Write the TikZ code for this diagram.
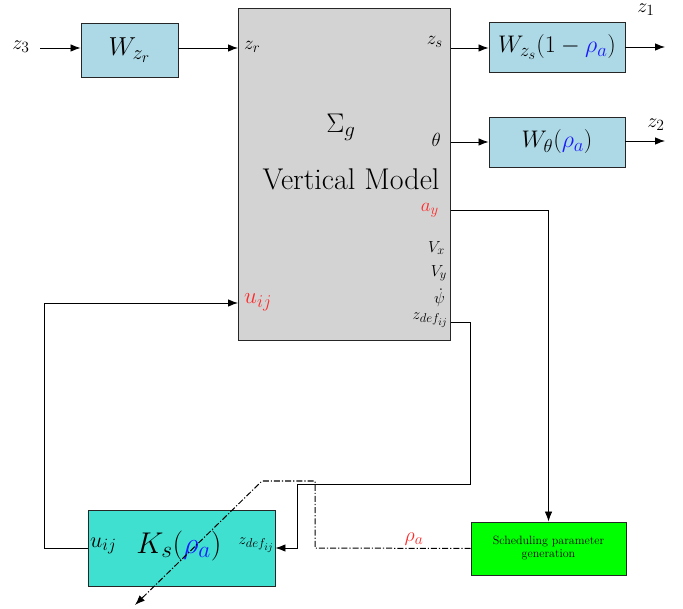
\documentclass[tikz,border=0pt]{standalone}
\usepackage{fix-cm}
\usetikzlibrary{arrows.meta}
\DeclareMathSizes{14}{14}{11}{8.5}
\DeclareMathSizes{15.5}{15.5}{12.8}{10.5}
\DeclareMathSizes{16}{16}{12.5}{9.6}
\DeclareMathSizes{19}{19}{14.8}{11.4}
\DeclareMathSizes{20}{20}{15.6}{12}
\DeclareMathSizes{22}{22}{17.2}{13.2}
\DeclareMathSizes{23}{23}{18}{13.8}
\DeclareMathSizes{24}{24}{18.7}{14.4}
\DeclareMathSizes{26}{26}{20.3}{15.6}
\DeclareMathSizes{27}{27}{21}{16.2}
\DeclareMathSizes{30}{30}{23.4}{18}
\definecolor{wblue}{HTML}{ADD8E6}
\definecolor{sysgray}{HTML}{D3D3D3}
\definecolor{kturq}{HTML}{40E0D0}
\definecolor{sgreen}{HTML}{00FF00}
\definecolor{rhoblue}{HTML}{1A1AFF}
\definecolor{lblred}{HTML}{FF2A2A}
\newcommand{\fs}[1]{\fontsize{#1}{#1}\selectfont}
\begin{document}
\begin{tikzpicture}[x=1pt,y=-1pt,
  blockbox/.style={draw=black!85, line width=0.9pt, inner sep=0pt},
  conn/.style={line width=0.85pt, draw=black},
  arr/.style={conn, -{Latex[length=10pt,width=7.5pt]}},
  port/.style={inner sep=0pt, font=\fs{16}},
  dashdot/.style={line width=1pt, draw=black, dash pattern=on 6pt off 2pt on 1.2pt off 2pt}
]
\useasboundingbox (0,0) rectangle (683,609);

% main system block
\node[blockbox, fill=sysgray, anchor=north west, minimum width=212pt, minimum height=332pt] (sys) at (238,8) {};
\node[inner sep=0pt, font=\fs{27}] (sigma) at (341,127) {$\Sigma_g$};
\node[inner sep=0pt, font=\fs{30}] (vm) at (351,179) {Vertical Model};
\node[port, anchor=west, font=\fs{19}] (zr) at (244,47) {$z_r$};
\node[port, anchor=east, font=\fs{19}] (zs) at (443,42) {$z_s$};
\node[port, anchor=east, font=\fs{19}] (th) at (441,140) {$\theta$};
\node[port, anchor=east, font=\fs{19}, text=lblred] (ay) at (439,210) {$a_y$};
\node[port, anchor=east] (vx) at (445,248) {$V_x$};
\node[port, anchor=east] (vy) at (447,273) {$V_y$};
\node[port, anchor=east] (psi) at (445,298) {$\dot\psi$};
\node[port, anchor=east, font=\fs{15.5}] (zdef) at (448,320) {$z_{def_{ij}}$};
\node[port, anchor=west, font=\fs{23}, text=lblred] (uij) at (244,302) {$u_{ij}$};

% weighting blocks
\node[blockbox, fill=wblue, minimum width=97pt, minimum height=54pt, font=\fs{26}] (wzr) at (129.5,50) {$W_{z_r}$};
\node[blockbox, fill=wblue, minimum width=136pt, minimum height=50pt, font=\fs{24}] (wzs) at (557,47) {$W_{z_s}(1-{\color{rhoblue}\rho_a})$};
\node[blockbox, fill=wblue, minimum width=136pt, minimum height=50pt, font=\fs{24}] (wth) at (557,142) {$W_{\theta}({\color{rhoblue}\rho_a})$};

% inputs/outputs
\node[inner sep=0pt, font=\fs{20}] (z3) at (21,47) {$z_3$};
\node[inner sep=0pt, font=\fs{20}] (z1) at (646,10) {$z_1$};
\node[inner sep=0pt, font=\fs{20}] (z2) at (656,125) {$z_2$};
\coordinate (z3s) at (40,48);
\coordinate (z1e) at (665,47);
\coordinate (z2e) at (665,141);

% controller and scheduling
\node[blockbox, fill=kturq, minimum width=187pt, minimum height=76pt] (K) at (181.5,548) {};
\node[inner sep=0pt, font=\fs{30}] (klbl) at (179,546) {$K_s({\color{rhoblue}\rho_a})$};
\node[port, anchor=west, font=\fs{22}] (kuij) at (90,546) {$u_{ij}$};
\node[port, anchor=east, font=\fs{15.5}] (kzdef) at (274,545) {$z_{def_{ij}}$};
\node[blockbox, fill=sgreen, minimum width=155pt, minimum height=53pt, align=center, font=\fs{12}] (sched) at (548.5,548.5) {Scheduling parameter\\[1pt]generation};
\node[inner sep=0pt, font=\fs{20}, text=lblred] (rho) at (414,539) {$\rho_a$};

% connectors
\draw[arr] (z3s) -- (wzr.west |- z3s);
\draw[arr] (wzr.east |- z3s) -- (sys.west |- z3s);
\draw[arr] (sys.east |- z3s) -- (wzs.west |- z3s);
\draw[arr] (wzs.east) -- (z1e);
\draw[arr] (sys.east |- wth) -- (wth.west);
\draw[arr] (wth.east |- z2e) -- (z2e);
\draw[arr] (sys.east |- 0,210) -| (sched.north);
\draw[arr] (sys.east |- 0,322) -- (470,322) -- (470,484) -- (297,484) -- (297,548) -- (K.east);
\draw[arr] (K.west) -- (44,548) -- (44,303) -- (sys.west |- 0,303);

% scheduling signal (dash-dot)
\coordinate (rhoend) at (135,605);
\draw[dashdot, -{Latex[length=10pt,width=7.5pt]}] (sched.west) -- (315,548) -- (315,481) -- (262,481) -- (rhoend);
\end{tikzpicture}
\end{document}
